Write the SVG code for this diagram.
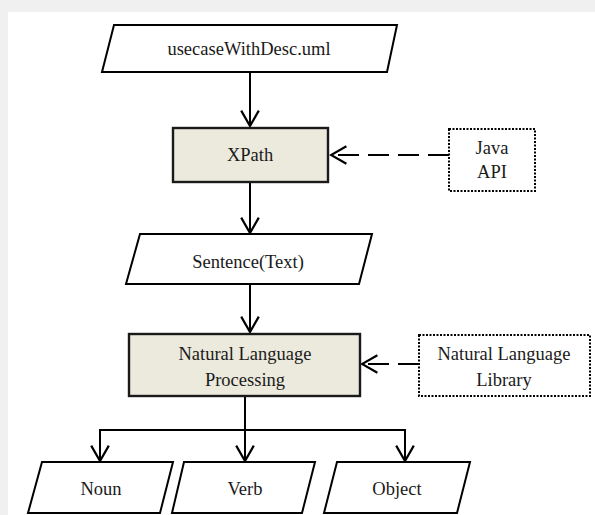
<svg xmlns="http://www.w3.org/2000/svg" width="595" height="515" viewBox="0 0 595 515">
  <style>
    .shape { fill: #ffffff; stroke: #000000; stroke-width: 2; }
    .proc { fill: #ece9dd; stroke: #1a1a1a; stroke-width: 2.4; }
    .ext { fill: #ffffff; stroke: #000000; stroke-width: 2; stroke-dasharray: 2 1.5; }
    .lbl { font-family: "Liberation Serif", "Times New Roman", serif; font-size: 18.5px; fill: #1a1a1a; text-anchor: middle; }
    .flow { fill: none; stroke: #000000; stroke-width: 2; }
    .dep { fill: none; stroke: #000000; stroke-width: 2; stroke-dasharray: 21 9; }
  </style>
  <defs>
    <marker id="open" markerUnits="userSpaceOnUse" markerWidth="20" markerHeight="22" viewBox="-16 -10 18 20" refX="0" refY="0" orient="auto">
      <path d="M-14,-8 L0,0 L-14,8" fill="none" stroke="#000000" stroke-width="2"/>
    </marker>
  </defs>

  <!-- page margin -->
  <rect x="0" y="0" width="595" height="515" fill="#f0f0f0"/>
  <rect x="8" y="12" width="587" height="503" fill="#ffffff"/>

  <!-- connectors -->
  <g id="connectors">
    <line class="flow" x1="250" y1="73" x2="250" y2="126" marker-end="url(#open)"/>
    <line class="dep" x1="449" y1="155" x2="331" y2="155" marker-end="url(#open)"/>
    <line class="flow" x1="250" y1="183" x2="250" y2="233" marker-end="url(#open)"/>
    <line class="flow" x1="250" y1="285" x2="250" y2="332" marker-end="url(#open)"/>
    <line class="dep" x1="419" y1="364" x2="362" y2="364" stroke-dasharray="18 9" marker-end="url(#open)"/>
    <polyline class="flow" points="100,461 100,430 405,430 405,461"/>
    <line class="flow" x1="100" y1="440" x2="100" y2="461" marker-end="url(#open)"/>
    <line class="flow" x1="245" y1="397" x2="245" y2="461" marker-end="url(#open)"/>
    <line class="flow" x1="405" y1="440" x2="405" y2="461" marker-end="url(#open)"/>
  </g>

  <!-- input file -->
  <g id="usecase-file">
    <polygon class="shape" points="114,25 397,25 387,72 102,72"/>
    <text class="lbl" x="249" y="55">usecaseWithDesc.uml</text>
  </g>

  <!-- XPath step -->
  <g id="xpath">
    <rect class="proc" x="173" y="128" width="155" height="54"/>
    <text class="lbl" x="250" y="161">XPath</text>
  </g>

  <!-- Java API -->
  <g id="java-api">
    <rect class="ext" x="449" y="129" width="86" height="62"/>
    <text class="lbl" x="492" y="154">Java</text>
    <text class="lbl" x="492" y="178">API</text>
  </g>

  <!-- sentence text -->
  <g id="sentence">
    <polygon class="shape" points="140,234 372,234 359,284 126,284"/>
    <text class="lbl" x="248" y="268">Sentence(Text)</text>
  </g>

  <!-- NLP step -->
  <g id="nlp">
    <rect class="proc" x="129" y="334" width="231" height="62"/>
    <text class="lbl" x="245" y="360">Natural Language</text>
    <text class="lbl" x="245" y="386">Processing</text>
  </g>

  <!-- NL library -->
  <g id="nl-library">
    <rect class="ext" x="419" y="335" width="171" height="61"/>
    <text class="lbl" x="504" y="360">Natural Language</text>
    <text class="lbl" x="504" y="386">Library</text>
  </g>

  <!-- outputs -->
  <g id="noun">
    <polygon class="shape" points="42,462 173,462 160,513 28,513"/>
    <text class="lbl" x="101" y="495">Noun</text>
  </g>
  <g id="verb">
    <polygon class="shape" points="184,462 315,462 302,513 172,513"/>
    <text class="lbl" x="245" y="495">Verb</text>
  </g>
  <g id="object">
    <polygon class="shape" points="337,462 470,462 457,513 324,513"/>
    <text class="lbl" x="397" y="495">Object</text>
  </g>
</svg>
